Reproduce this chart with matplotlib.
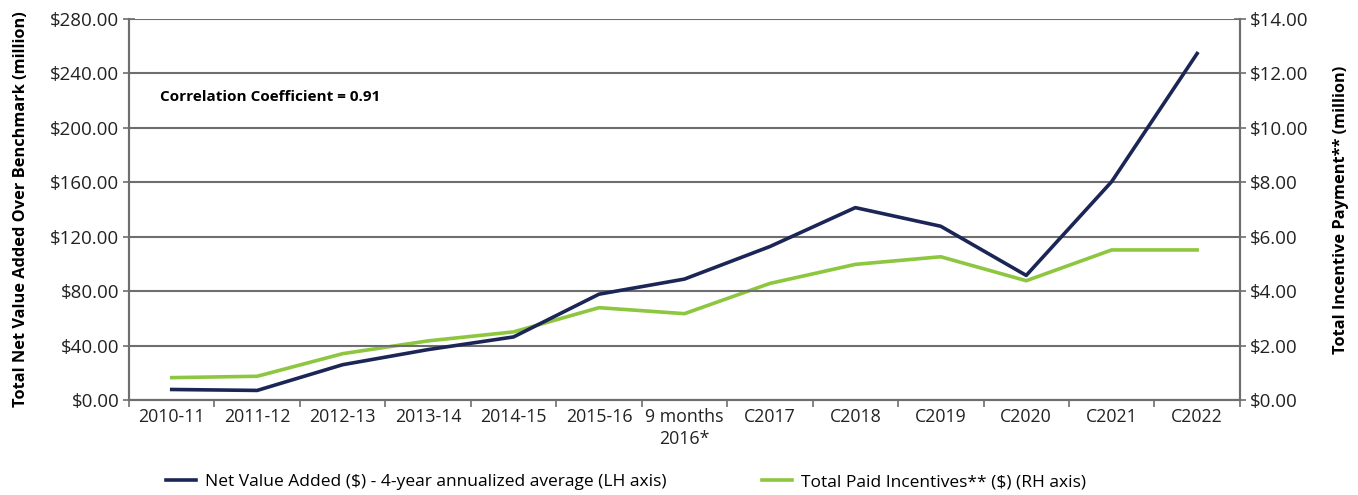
import numpy as np
import matplotlib
matplotlib.use('Agg')
import matplotlib.pyplot as plt
from matplotlib.ticker import FuncFormatter, FixedLocator

plt.rcParams['font.family'] = ['Open Sans', 'DejaVu Sans']

categories = ['2010-11', '2011-12', '2012-13', '2013-14', '2014-15', '2015-16',
              '9 months\n2016*', 'C2017', 'C2018', 'C2019', 'C2020', 'C2021', 'C2022']
net_value_added = [7.7, 7.0, 25.9, 37.0, 46.3, 77.7, 88.8, 112.7, 141.3, 127.6, 91.5, 160.4, 254.5]
paid_incentives = [0.82, 0.87, 1.70, 2.17, 2.50, 3.39, 3.17, 4.28, 4.98, 5.26, 4.38, 5.51, 5.51]

NAVY = '#1b2656'
GREEN = '#8dc63f'
GRID = '#6e6e6e'

fig = plt.figure(figsize=(13.58, 4.95), dpi=100)
ax = fig.add_axes([0.095, 0.192, 0.818, 0.770])
ax2 = ax.twinx()

x = np.arange(len(categories))
l1, = ax.plot(x, net_value_added, color=NAVY, lw=2.6, label='Net Value Added (\\$) - 4-year annualized average (LH axis)')
l2, = ax2.plot(x, paid_incentives, color=GREEN, lw=2.6, label='Total Paid Incentives** (\\$) (RH axis)')
ax2.set_zorder(ax.get_zorder() - 1)
ax.patch.set_visible(False)

ax.set_xlim(-0.5, len(categories) - 0.5)
ax.set_ylim(0, 280)
ax2.set_ylim(0, 14)
ax.set_yticks(np.arange(0, 281, 40))
ax2.set_yticks(np.arange(0, 14.1, 2))
ax.yaxis.set_major_formatter(FuncFormatter(lambda v, p: '\\$%.2f' % v))
ax2.yaxis.set_major_formatter(FuncFormatter(lambda v, p: '\\$%.2f' % v))

ax.set_xticks(x)
ax.set_xticklabels(categories, fontsize=12.8, color='#222222', linespacing=1.3)
ax.tick_params(axis='x', which='major', length=0, pad=6)
ax.xaxis.set_minor_locator(FixedLocator(np.arange(-0.5, len(categories), 1)))
ax.tick_params(axis='x', which='minor', length=5, color=GRID, width=1.2)

ax.tick_params(axis='y', direction='inout', length=8, color=GRID, width=1.2,
               labelsize=13.5, labelcolor='#222222', pad=3)
ax2.tick_params(axis='y', direction='inout', length=8, color=GRID, width=1.2,
                labelsize=13.5, labelcolor='#222222', pad=3)

ax.grid(axis='y', color=GRID, lw=1.5)
ax.set_axisbelow(True)

for a in (ax, ax2):
    a.spines['top'].set_visible(False)
    for s in ('left', 'right', 'bottom'):
        a.spines[s].set_color(GRID)
        a.spines[s].set_linewidth(1.5)

ax.set_ylabel('Total Net Value Added Over Benchmark (million)', fontsize=11.8, fontweight='bold', labelpad=15)
ax2.set_ylabel('Total Incentive Payment** (million)', fontsize=11.8, fontweight='bold', labelpad=18)

ax.text(0.028, 0.795, 'Correlation Coefficient = 0.91', transform=ax.transAxes,
        fontsize=11, fontweight='bold', va='center', ha='left')

fig.legend(handles=[l1, l2], loc='center left', bbox_to_anchor=(0.111, 0.026), ncol=2,
           frameon=False, fontsize=12.5, handlelength=1.7, columnspacing=5.5, handletextpad=0.55)

fig.savefig('out.png', dpi=100)
